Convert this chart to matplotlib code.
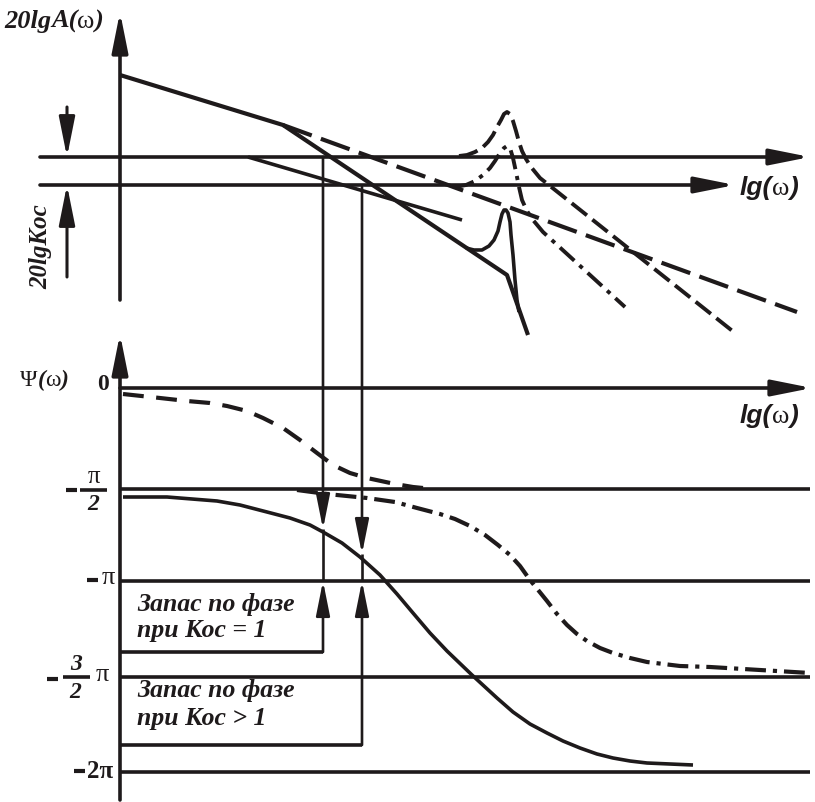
import matplotlib.pyplot as plt

plt.rcParams['lines.scale_dashes'] = False

ink = '#1e1a1b'
SERIF = 'Liberation Serif'
SANS = 'Liberation Sans'

# --- amplitude (top) panel, drawing units = pixels of the sheet ---
asym_x = [120, 283, 507, 528]
asym_y = [75, 125, 275, 335]
asym2_x = [248, 462]
asym2_y = [157, 220]
long_dash_x = [283, 797]
long_dash_y = [125, 312]
res_solid_x = [466, 474, 482, 489, 494, 498, 500, 502, 504, 506, 508, 510, 511, 513, 515, 517, 519]
res_solid_y = [248, 250, 250, 246, 240, 231, 222, 214, 210, 210, 213, 222, 235, 255, 280, 300, 312]
res_dash_x = [459, 467, 475, 482, 488, 493, 497, 501, 504, 507, 510, 513, 516, 519, 522, 526, 531, 540, 735]
res_dash_y = [156, 155, 152, 148, 142, 135, 127, 120, 114, 112, 114, 121, 131, 142, 151, 159, 167, 178, 333]
res_dd_x = [455, 466, 475, 483, 490, 495, 500, 504, 507, 510, 513, 516, 519, 522, 527, 533, 543, 625]
res_dd_y = [187, 185, 181, 175, 168, 161, 153, 148, 146, 148, 158, 172, 187, 200, 211, 220, 232, 307]
amp_levels = [157, 185]
amp_level_ends = [810, 735]

# --- phase (bottom) panel ---
ph_dash_x = [123, 160, 187, 210, 227, 247, 263, 283, 300, 317, 333, 350, 367, 395, 413, 433]
ph_dash_y = [394, 398, 401, 403, 406, 411, 418, 428, 440, 453, 465, 473, 478, 484, 487, 489]
ph_dd_x = [297, 327, 367, 395, 417, 440, 455, 470, 485, 498, 510, 520, 530, 547, 557, 567, 577,
           587, 600, 613, 630, 647, 680, 710, 760, 810]
ph_dd_y = [490, 494, 498, 502, 508, 514, 519, 526, 535, 545, 555, 566, 580, 601, 614, 625, 634,
           641, 648, 653, 658, 662, 666, 667, 670, 673]
ph_solid_x = [123, 167, 217, 240, 267, 290, 310, 323, 342, 360, 380, 397, 413, 430, 447, 472,
              497, 513, 530, 547, 563, 580, 597, 613, 630, 647, 670, 693]
ph_solid_y = [497, 497, 501, 505, 512, 518, 525, 532, 543, 557, 575, 594, 613, 633, 651, 675,
              698, 712, 724, 733, 741, 748, 754, 758, 761, 763, 764, 765]
ph_levels = [388, 489, 581, 677, 772]

# crossover verticals and phase-margin boxes
cross_x = [323, 362]
cross_top = [157, 187]
cross_hit = [529, 554]
box_bottom = [652, 745]
box_text = [('Запас по фазе', 'при Кос = 1'), ('Запас по фазе', 'при Кос > 1')]
box_text_y = [(604, 631), (691, 719)]

fig = plt.figure(figsize=(8.15, 8.02), dpi=100)
ax = fig.add_axes([0, 0, 1, 1])
ax.set_xlim(0, 815)
ax.set_ylim(802, 0)
ax.axis('off')


def arrow(x0, y0, x1, y1, lw=2.6, hl=1.1, hw=0.22, ms=22):
    ax.annotate('', xy=(x1, y1), xytext=(x0, y0),
                arrowprops=dict(arrowstyle=f'-|>,head_length={hl},head_width={hw}',
                                lw=lw, color=ink, mutation_scale=ms,
                                shrinkA=0, shrinkB=0))


def line(xs, ys, lw=2.4, **kw):
    ax.plot(xs, ys, color=ink, lw=lw, solid_capstyle='butt',
            dash_capstyle='butt', solid_joinstyle='round', **kw)


# axes and level lines
arrow(120, 300, 120, 12)
arrow(120, 800, 120, 334)
arrow(40, amp_levels[0], amp_level_ends[0], amp_levels[0])
arrow(40, amp_levels[1], amp_level_ends[1], amp_levels[1])
arrow(120, ph_levels[0], 812, ph_levels[0])
for y in ph_levels[1:]:
    line([120, 810], [y, y], lw=2.6)

# 20lgKoc dimension arrows
arrow(67, 107, 67, amp_levels[0], lw=2.2)
arrow(67, 277, 67, amp_levels[1], lw=2.2)

# amplitude curves
line(asym_x, asym_y, lw=3.0)
line(asym2_x, asym2_y, lw=2.6)
line(res_solid_x, res_solid_y, lw=2.6)
line(long_dash_x, long_dash_y, lw=3.0, dashes=(22, 7))
line(res_dash_x, res_dash_y, lw=2.8, dashes=(14, 5))
line(res_dd_x, res_dd_y, lw=2.8, dashes=(14, 5, 3, 5))

# phase curves
line(ph_dash_x, ph_dash_y, lw=3.0, dashes=(15, 9))
line(ph_dd_x, ph_dd_y, lw=3.0, dashes=(15, 5, 3, 5))
line(ph_solid_x, ph_solid_y, lw=2.6)

# crossover lines, margins
for x, yt, yh, yb in zip(cross_x, cross_top, cross_hit, box_bottom):
    arrow(x, yt, x, yh, lw=1.9, ms=19)
    line([x, x], [yh, ph_levels[2]], lw=1.9)
    arrow(x, yb, x, ph_levels[2], lw=1.9, ms=19)
    line([120, x], [yb, yb], lw=2.6)

for (t1, t2), (y1, y2) in zip(box_text, box_text_y):
    ax.text(137, y1, t1, family=SERIF, weight='bold', style='italic',
            fontsize=18.5, color=ink, va='center')
    ax.text(137, y2, t2, family=SERIF, weight='bold', style='italic',
            fontsize=18.5, color=ink, va='center')


def chain(x, y, parts, **kw):
    prev = None
    for s, fam, wt, st in parts:
        if prev is None:
            prev = ax.text(x, y, s, family=fam, weight=wt, style=st,
                           color=ink, va='baseline', **kw)
        else:
            prev = ax.annotate(s, xy=(1, 0), xycoords=prev, family=fam,
                               weight=wt, style=st, color=ink,
                               va='bottom', **kw)
    return prev


# axis captions
chain(4, 28, [('20lg', SERIF, 'bold', 'italic'), ('A(', SERIF, 'bold', 'italic'),
              ('ω', SERIF, 'normal', 'normal'), (')', SERIF, 'bold', 'italic')],
      fontsize=19)
chain(740, 195, [('lg(', SANS, 'bold', 'italic'), ('ω', SERIF, 'normal', 'normal'),
                 (')', SANS, 'bold', 'italic')], fontsize=19)
chain(740, 423, [('lg(', SANS, 'bold', 'italic'), ('ω', SERIF, 'normal', 'normal'),
                 (')', SANS, 'bold', 'italic')], fontsize=19)
chain(20, 386, [('Ψ', SERIF, 'normal', 'normal'), ('(', SERIF, 'bold', 'italic'),
                ('ω', SERIF, 'normal', 'normal'), (')', SERIF, 'bold', 'italic')],
      fontsize=17)
ax.text(41, 247, '20lgKoc', family=SERIF, weight='bold', style='italic',
        fontsize=18, color=ink, rotation=90, ha='center', va='center')

# phase tick labels (minus signs as short heavy bars, like the original)
minus_x = [(66, 77), (87, 98), (47, 58), (74, 85)]
minus_y = [490, 580, 679, 771]
for (xa, xb), y in zip(minus_x, minus_y):
    line([xa, xb], [y, y], lw=3.0)

tk = dict(family=SERIF, color=ink, va='center')
ax.text(103, 384, '0', weight='bold', fontsize=17, ha='center', **tk)
ax.text(94, 477, 'π', fontsize=18, ha='center', **tk)
line([80, 107], [490, 490], lw=2.6)
ax.text(93, 505, '2', weight='bold', style='italic', fontsize=17, ha='center', **tk)
ax.text(108, 578, 'π', fontsize=19, ha='center', **tk)
ax.text(76, 665, '3', weight='bold', style='italic', fontsize=17, ha='center', **tk)
line([63, 90], [677, 677], lw=2.6)
ax.text(75, 693, '2', weight='bold', style='italic', fontsize=17, ha='center', **tk)
ax.text(102, 675, 'π', fontsize=19, ha='center', **tk)
ax.text(100, 771, '2π', weight='bold', fontsize=18, ha='center', **tk)

fig.savefig('out.png', dpi=100)
